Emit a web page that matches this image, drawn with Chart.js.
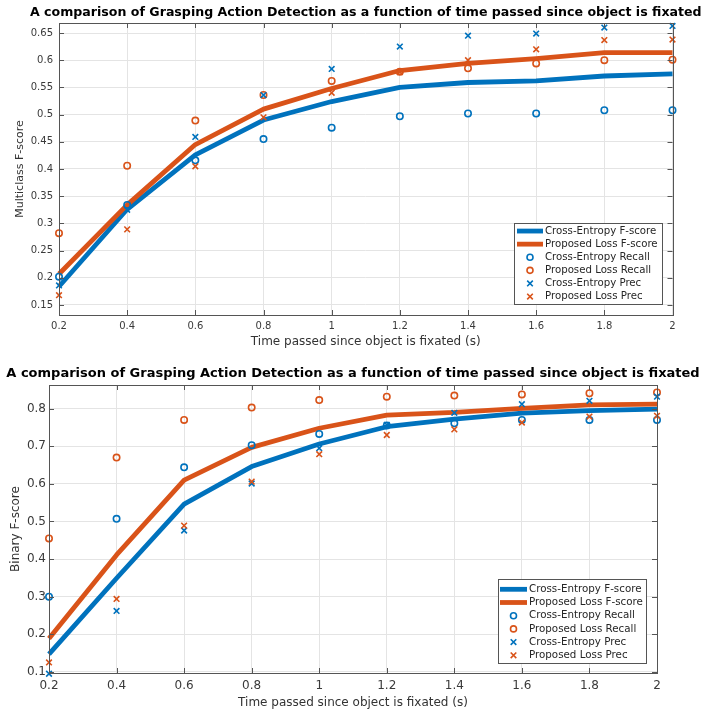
<!DOCTYPE html>
<html>
<head>
<meta charset="utf-8">
<script src="https://cdn.jsdelivr.net/npm/chart.js"></script>
<style>
  html, body { margin: 0; padding: 0; background: #fff; overflow: hidden; }
  .grafico { position: absolute; left: 0; }
</style>
</head>
<body>
<div class="grafico" style="top:0"><canvas id="grafico-multi" width="702" height="355"></canvas></div>
<div class="grafico" style="top:355px"><canvas id="grafico-binario" width="702" height="356"></canvas></div>
<script>
// Tempo desde a fixação (s)
const tempos = [0.2, 0.4, 0.6, 0.8, 1.0, 1.2, 1.4, 1.6, 1.8, 2.0];
const ticksX = [0.2, 0.4, 0.6, 0.8, 1, 1.2, 1.4, 1.6, 1.8, 2];

// Multiclass F-score (gráfico de cima)
const multiCeF = [0.184, 0.326, 0.426, 0.490, 0.524, 0.550, 0.559, 0.562, 0.571, 0.575];
const multiPlF = [0.207, 0.334, 0.445, 0.510, 0.548, 0.581, 0.594, 0.603, 0.614, 0.614];
const multiCeRecall = [0.202, 0.334, 0.416, 0.455, 0.476, 0.497, 0.502, 0.502, 0.508, 0.508];
const multiPlRecall = [0.282, 0.406, 0.489, 0.536, 0.562, 0.579, 0.585, 0.594, 0.600, 0.601];
const multiCePrec = [0.186, 0.325, 0.459, 0.536, 0.584, 0.625, 0.645, 0.649, 0.660, 0.663];
const multiPlPrec = [0.168, 0.289, 0.405, 0.495, 0.540, 0.578, 0.600, 0.620, 0.637, 0.638];
const ticksYMulti = [0.15, 0.2, 0.25, 0.3, 0.35, 0.4, 0.45, 0.5, 0.55, 0.6, 0.65];

// Binary F-score (gráfico de baixo)
const binCeF = [0.147, 0.349, 0.546, 0.646, 0.706, 0.752, 0.772, 0.788, 0.795, 0.799];
const binPlF = [0.189, 0.411, 0.610, 0.697, 0.748, 0.783, 0.790, 0.801, 0.810, 0.812];
const binCeRecall = [0.300, 0.507, 0.644, 0.703, 0.733, 0.755, 0.761, 0.770, 0.770, 0.770];
const binPlRecall = [0.455, 0.670, 0.770, 0.803, 0.823, 0.832, 0.835, 0.838, 0.841, 0.843];
const binCePrec = [0.095, 0.262, 0.476, 0.601, 0.695, 0.757, 0.789, 0.812, 0.821, 0.832];
const binPlPrec = [0.125, 0.294, 0.489, 0.606, 0.679, 0.730, 0.745, 0.763, 0.779, 0.781];
const ticksYBin = [0.1, 0.2, 0.3, 0.4, 0.5, 0.6, 0.7, 0.8];

const titulo = 'A comparison of Grasping Action Detection as a function of time passed since object is fixated';
const rotuloX = 'Time passed since object is fixated (s)';
const nomes = ['Cross-Entropy F-score', 'Proposed Loss F-score', 'Cross-Entropy Recall',
  'Proposed Loss Recall', 'Cross-Entropy Prec', 'Proposed Loss Prec'];

const azul = '#0072bd';
const laranja = '#d95319';
const fonte = '"DejaVu Sans", sans-serif';

// Moldura (box) e ticks internos, estilo MATLAB
const moldura = {
  id: 'moldura',
  afterDatasetsDraw(chart) {
    const { ctx, chartArea: a, scales } = chart;
    ctx.save();
    ctx.strokeStyle = '#555';
    ctx.lineWidth = 1;
    ctx.beginPath();
    scales.x.ticks.forEach(t => {
      const px = Math.round(scales.x.getPixelForValue(t.value)) + 0.5;
      ctx.moveTo(px, a.bottom); ctx.lineTo(px, a.bottom - 5);
      ctx.moveTo(px, a.top); ctx.lineTo(px, a.top + 5);
    });
    scales.y.ticks.forEach(t => {
      const py = Math.round(scales.y.getPixelForValue(t.value)) + 0.5;
      ctx.moveTo(a.left, py); ctx.lineTo(a.left + 5, py);
      ctx.moveTo(a.right, py); ctx.lineTo(a.right - 5, py);
    });
    ctx.stroke();
    ctx.strokeRect(Math.round(a.left) + 0.5, Math.round(a.top) + 0.5,
      Math.round(a.right - a.left), Math.round(a.bottom - a.top));
    ctx.restore();
  }
};

// Título desenhado centralizado sobre a área do gráfico
const tituloTopo = {
  id: 'tituloTopo',
  afterDraw(chart, args, o) {
    const { ctx, chartArea: a } = chart;
    ctx.save();
    ctx.font = o.font;
    ctx.fillStyle = '#000';
    ctx.textAlign = 'center';
    ctx.textBaseline = 'middle';
    ctx.fillText(o.text, (a.left + a.right) / 2, o.y);
    ctx.restore();
  }
};

// Legenda dentro do gráfico (canto inferior direito)
const legendaInterna = {
  id: 'legendaInterna',
  afterDraw(chart, args, o) {
    const ctx = chart.ctx;
    ctx.save();
    ctx.fillStyle = '#fff';
    ctx.fillRect(o.x, o.y, o.w, o.h);
    ctx.strokeStyle = '#555';
    ctx.lineWidth = 1;
    ctx.strokeRect(o.x + 0.5, o.y + 0.5, o.w, o.h);
    ctx.font = o.font;
    ctx.textBaseline = 'middle';
    chart.data.datasets.forEach((ds, i) => {
      const cy = o.y + o.topo + o.linha * (i + 0.5);
      ctx.strokeStyle = ds.borderColor;
      if (ds.showLine) {
        ctx.lineWidth = ds.borderWidth;
        ctx.beginPath();
        ctx.moveTo(o.x + o.amostra[0], cy);
        ctx.lineTo(o.x + o.amostra[1], cy);
        ctx.stroke();
      } else {
        const cx = o.x + (o.amostra[0] + o.amostra[1]) / 2;
        ctx.lineWidth = 1.6;
        ctx.beginPath();
        if (ds.pointStyle === 'circle') {
          ctx.arc(cx, cy, 3, 0, Math.PI * 2);
        } else {
          ctx.moveTo(cx - 2.8, cy - 2.8); ctx.lineTo(cx + 2.8, cy + 2.8);
          ctx.moveTo(cx - 2.8, cy + 2.8); ctx.lineTo(cx + 2.8, cy - 2.8);
        }
        ctx.stroke();
      }
      ctx.fillStyle = '#262626';
      ctx.fillText(ds.label, o.x + o.texto, cy);
    });
    ctx.restore();
  }
};

function pontos(valores) {
  return tempos.map((t, i) => ({ x: t, y: valores[i] }));
}

function montarDatasets(series) {
  const cores = [azul, laranja, azul, laranja, azul, laranja];
  return series.map((s, i) => {
    const linha = i < 2;
    return {
      label: nomes[i],
      data: pontos(s),
      showLine: linha,
      borderColor: cores[i],
      backgroundColor: cores[i],
      borderWidth: linha ? 4.8 : 1.6,
      borderJoinStyle: 'round',
      pointRadius: linha ? 0 : (i < 4 ? 3.2 : 4),
      pointStyle: i < 4 ? 'circle' : 'crossRot',
      pointBorderColor: cores[i],
      pointBackgroundColor: 'rgba(0,0,0,0)',
      pointBorderWidth: 1.6,
      clip: false,
      order: 6 - i
    };
  });
}

function criarGrafico(id, series, cfg) {
  const ctx = document.getElementById(id).getContext('2d');
  return new Chart(ctx, {
    type: 'scatter',
    data: { datasets: montarDatasets(series) },
    plugins: [moldura, tituloTopo, legendaInterna],
    options: {
      responsive: false,
      animation: false,
      events: [],
      layout: { padding: cfg.padding },
      plugins: {
        legend: { display: false },
        tooltip: { enabled: false },
        tituloTopo: { text: titulo, font: cfg.fonteTitulo, y: cfg.tituloY },
        legendaInterna: cfg.legenda
      },
      scales: {
        x: {
          type: 'linear',
          min: 0.2,
          max: 2,
          afterBuildTicks: s => { s.ticks = ticksX.map(v => ({ value: v })); },
          afterFit: s => { s.height = cfg.alturaX; },
          grid: { color: '#e4e4e4', drawTicks: false },
          border: { display: false },
          ticks: {
            autoSkip: false, maxRotation: 0, padding: cfg.padTickX, color: '#3a3a3a',
            font: { family: fonte, size: cfg.tamTick }, callback: v => String(v)
          },
          title: {
            display: true, text: rotuloX, color: '#333',
            font: { family: fonte, size: 12 }, padding: { top: 0, bottom: cfg.padTituloX }
          }
        },
        y: {
          min: cfg.yMin,
          max: cfg.yMax,
          afterBuildTicks: s => { s.ticks = cfg.ticksY.map(v => ({ value: v })); },
          afterFit: s => { s.width = cfg.larguraY; },
          grid: { color: '#e4e4e4', drawTicks: false },
          border: { display: false },
          ticks: {
            autoSkip: false, padding: cfg.padTickY, color: '#3a3a3a',
            font: { family: fonte, size: cfg.tamTick }, callback: v => String(v)
          },
          title: {
            display: true, text: cfg.rotuloY, color: '#333',
            font: { family: fonte, size: cfg.tamRotuloY }, padding: { top: cfg.padTituloY, bottom: 0 }
          }
        }
      }
    }
  });
}

// Gráfico de cima: multiclass
criarGrafico('grafico-multi',
  [multiCeF, multiPlF, multiCeRecall, multiPlRecall, multiCePrec, multiPlPrec], {
    padding: { top: 23, right: 29.5, bottom: 0, left: 0 },
    fonteTitulo: 'bold 12.6px ' + fonte,
    tituloY: 13,
    alturaX: 40,
    larguraY: 59,
    padTickX: 5.7,
    padTickY: 6,
    padTituloX: 5.8,
    padTituloY: 14,
    tamTick: 10,
    tamRotuloY: 11,
    rotuloY: 'Multiclass F-score',
    yMin: 0.1316,
    yMax: 0.6684,
    ticksY: ticksYMulti,
    legenda: { x: 514, y: 223, w: 148, h: 81, topo: 1.5, linha: 13.1, amostra: [3, 29], texto: 31, font: '10.2px ' + fonte }
  });

// Gráfico de baixo: binário
criarGrafico('grafico-binario',
  [binCeF, binPlF, binCeRecall, binPlRecall, binCePrec, binPlPrec], {
    padding: { top: 30, right: 45, bottom: 0, left: 0 },
    fonteTitulo: 'bold 13px ' + fonte,
    tituloY: 18.5,
    alturaX: 38,
    larguraY: 49,
    padTickX: 5.8,
    padTickY: 3,
    padTituloX: 0.5,
    padTituloY: 8.3,
    tamTick: 12,
    tamRotuloY: 12,
    rotuloY: 'Binary F-score',
    yMin: 0.097,
    yMax: 0.863,
    ticksY: ticksYBin,
    legenda: { x: 498, y: 224, w: 148, h: 84, topo: 3.7, linha: 13.2, amostra: [2, 29], texto: 31, font: '10.3px ' + fonte }
  });
</script>
</body>
</html>
